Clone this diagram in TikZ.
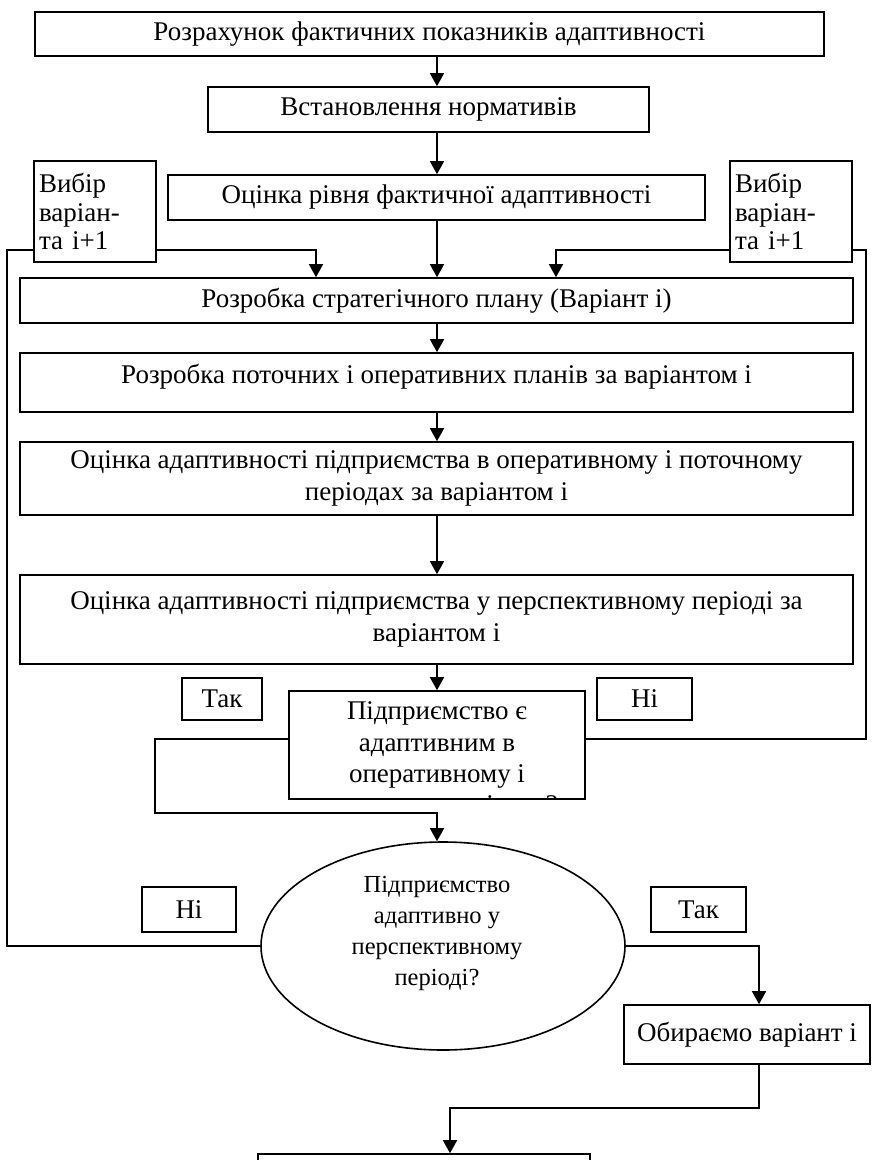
\documentclass[tikz,border=0pt]{standalone}
\usepackage{fontspec}
\setmainfont{Liberation Serif}
\usetikzlibrary{arrows.meta,shapes.geometric,calc}
\begin{document}
\begin{tikzpicture}[x=1pt,y=-1pt,
  every node/.style={font=\fontsize{27}{31.5}\selectfont},
  box/.style={draw, line width=1.6pt, rectangle, inner sep=0pt, align=center},
  vib/.style={draw, line width=1.6pt, rectangle, inner xsep=5pt, inner ysep=0pt, align=left,
    text width=112pt, minimum width=122pt, minimum height=101pt,
    font=\fontsize{27}{28.5}\selectfont},
  conn/.style={line width=1.6pt},
  arr/.style={conn, -{Triangle[length=13pt,width=14pt]}}]
\useasboundingbox (0,0) rectangle (872,1160);
\clip (0,0) rectangle (872,1160);
\coordinate (m) at (437,0);
\coordinate (h) at (0,250);

\node[box, minimum width=789pt, minimum height=44pt] (b1) at (429.5,34) {Розрахунок фактичних показників адаптивності};
\node[box, minimum width=441pt, minimum height=45pt] (b2) at (428.5,109.5) {Встановлення нормативів};
\node[box, minimum width=537pt, minimum height=45pt] (b3) at (436.5,197.5) {Оцінка рівня фактичної адаптивності};
\node[vib] (vibL) at (95,211.5) {Вибір\\варіан-\\та і+1};
\node[vib] (vibR) at (791,211.5) {Вибір\\варіан-\\та і+1};
\node[box, minimum width=833pt, minimum height=45pt] (b4) at (436.5,300.5) {Розробка стратегічного плану (Варіант і)};
\node[box, minimum width=833pt, minimum height=59pt, text depth=17pt] (b5) at (436.5,382.5) {Розробка поточних і оперативних планів за варіантом і};
\node[box, minimum width=833pt, minimum height=73pt] (b6) at (436.5,478.5) {Оцінка адаптивності підприємства в оперативному і поточному\\періодах за варіантом і};
\node[box, minimum width=833pt, minimum height=89pt] (b7) at (436.5,619.5) {Оцінка адаптивності підприємства у перспективному періоді за\\варіантом і};
\node[box, minimum width=80pt, minimum height=42pt] (tak1) at (222,699) {Так};
\node[box, minimum width=95pt, minimum height=42pt] (ni1) at (644.5,699) {Ні};
\node[box, minimum width=296pt, minimum height=108pt] (dec) at (437,745) {Підприємство є\\адаптивним в\\оперативному і};
\begin{scope}
  \clip (290,692) rectangle (584,797.5);
  \node[anchor=base] (decrest) at (437,813) {поточному періодах?};
\end{scope}
\node[draw, line width=1.6pt, ellipse, minimum width=364pt, minimum height=208pt, inner sep=0pt] (ell) at (443,946) {};
\node[align=center, font=\fontsize{24.5}{31}\selectfont] (etext) at (437,933) {Підприємство\\адаптивно у\\перспективному\\періоді?};
\node[box, minimum width=94pt, minimum height=45pt] (ni2) at (189,909.5) {Ні};
\node[box, minimum width=95pt, minimum height=45pt] (tak2) at (698.5,909.5) {Так};
\node[box, minimum width=246pt, minimum height=59pt] (obir) at (747,1034.5) {Обираємо варіант і};
\node[box, minimum width=332pt, minimum height=40pt] (last) at (424,1174) {};

\draw[arr] (b1.south -| m) -- (b2.north -| m);
\draw[arr] (b2.south -| m) -- (b3.north -| m);
\draw[arr] (b3.south -| m) -- (b4.north -| m);
\draw[arr] (vibL.east |- h) -| (316,0 |- b4.north);
\draw[arr] (vibR.west |- h) -| (556,0 |- b4.north);
\draw[arr] (b4.south -| m) -- (b5.north -| m);
\draw[arr] (b5.south -| m) -- (b6.north -| m);
\draw[arr] (b6.south -| m) -- (b7.north -| m);
\draw[arr] (b7.south -| m) -- (dec.north -| m);
\draw[conn] (ell.west) -| (7,250) -- (vibL.west |- h);
\draw[conn] (dec.east |- 0,739) -| (866,250) -- (vibR.east |- h);
\draw[arr] (dec.west |- 0,739) -| (155,813) -| (437,0 |- ell.north);
\draw[arr] (ell.east) -| (759,0 |- obir.north);
\draw[arr] (759,0 |- obir.south) |- (450,1108) -- (450,0 |- last.north);
\end{tikzpicture}
\end{document}
